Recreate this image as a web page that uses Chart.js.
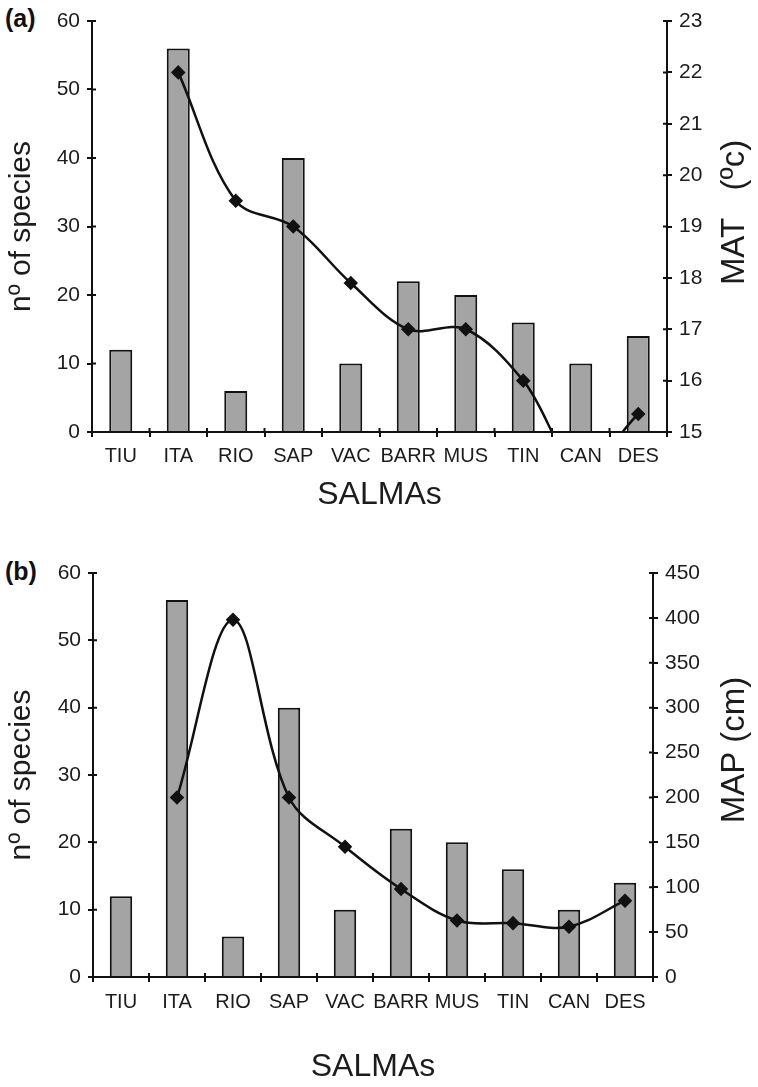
<!DOCTYPE html>
<html>
<head>
<meta charset="utf-8">
<script src="https://cdn.jsdelivr.net/npm/chart.js@4"></script>
<style>
        body { margin: 0; background: #fff; width: 758px; height: 1087px; position: relative; overflow: hidden; }
        canvas { position: absolute; left: 0; }
        .panel_label { position: absolute; left: 5px; font: bold 25px "Liberation Sans", Arial, sans-serif; color: #111; }
</style>
</head>
<body>
<div class="panel_label" style="top:4px">(a)</div>
<canvas id="chart_mat" width="758" height="540" style="top:0px"></canvas>
<div class="panel_label" style="top:557px">(b)</div>
<canvas id="chart_map" width="758" height="547" style="top:540px"></canvas>
<script>
const salmas = ["TIU", "ITA", "RIO", "SAP", "VAC", "BARR", "MUS", "TIN", "CAN", "DES"];
const species_count = [12, 56, 6, 40, 10, 22, 20, 16, 10, 14];
const mat_values = [null, 22, 19.5, 19, 17.9, 17, 17, 16, 14.3, 15.35];
const map_values = [null, 200, 398, 200, 145, 98, 63, 60, 56, 85];

const font_family = '"Liberation Sans", Arial, sans-serif';
const ink = "#111";
const text_ink = "#1c1c1c";

// ticks in the picture cross the axis line, chart.js only draws them outside
const cross_ticks = {
        id: "cross_ticks",
        afterDraw(chart) {
                var ctx = chart.ctx;
                ctx.save();
                ctx.strokeStyle = ink;
                ctx.lineWidth = 2;
                for (const id in chart.scales) {
                        const s = chart.scales[id];
                        ctx.beginPath();
                        if (s.isHorizontal()) {
                                for (let i = 0; i <= s.ticks.length; i++) {
                                        const x = s.getPixelForValue(i - 0.5);
                                        ctx.moveTo(x, s.top);
                                        ctx.lineTo(x, s.top - 4);
                                }
                        } else {
                                const x = s.position === "left" ? s.right : s.left;
                                const dir = s.position === "left" ? 1 : -1;
                                for (let i = 0; i < s.ticks.length; i++) {
                                        const y = s.getPixelForTick(i);
                                        ctx.moveTo(x, y);
                                        ctx.lineTo(x + dir * 4, y);
                                }
                        }
                        ctx.stroke();
                }
                ctx.restore();
        }
};

// right axis title reads bottom to top like the left one
const right_title = {
        id: "right_title",
        afterDraw(chart, args, opts) {
                const s = chart.scales.y2;
                var ctx = chart.ctx;
                ctx.save();
                ctx.fillStyle = text_ink;
                ctx.font = opts.size + "px " + font_family;
                ctx.textAlign = "center";
                ctx.textBaseline = "middle";
                ctx.translate(s.right - opts.offset, (s.top + s.bottom) / 2 + opts.shift);
                ctx.rotate(-Math.PI / 2);
                ctx.fillText(opts.text, 0, 0);
                ctx.restore();
        }
};

function axis_common(extra) {
        return Object.assign({
                grid: { drawOnChartArea: false, drawTicks: true, tickLength: 5, color: ink, lineWidth: 2 },
                border: { color: ink, width: 2 },
        }, extra);
}

function init_chart(name, line_values, opt) {
        new Chart(name, {
                type: "bar",
                data: {
                        labels: salmas,
                        datasets: [{
                                type: "line",
                                data: line_values,
                                yAxisID: "y2",
                                borderColor: ink,
                                borderWidth: 2.5,
                                tension: 0.35,
                                pointStyle: "rectRot",
                                pointRadius: 5.5,
                                pointBackgroundColor: ink,
                                pointBorderColor: ink,
                                clip: 0,
                                order: 0
                        }, {
                                data: species_count,
                                yAxisID: "y",
                                backgroundColor: "#a4a4a4",
                                borderColor: ink,
                                borderWidth: 2,
                                barPercentage: 0.4,
                                categoryPercentage: 1,
                                order: 1
                        }]
                },
                options: {
                        responsive: false,
                        animation: false,
                        layout: { padding: { top: opt.top, bottom: opt.bottom, left: 0, right: 0 } },
                        plugins: {
                                legend: { display: false },
                                tooltip: { enabled: false },
                                right_title: { text: opt.right_text, size: 33, offset: 23, shift: opt.rshift }
                        },
                        scales: {
                                x: axis_common({
                                        offset: true,
                                        grid: { offset: true, drawOnChartArea: false, tickLength: 5, color: ink, lineWidth: 2 },
                                        ticks: { color: text_ink, font: { family: font_family, size: 20 }, padding: opt.xpad, maxRotation: 0, autoSkip: false },
                                        title: { display: true, text: "SALMAs", color: text_ink, font: { family: font_family, size: 32 }, padding: 0 },
                                        afterFit: s => { s.height = opt.xh; }
                                }),
                                y: axis_common({
                                        position: "left",
                                        min: 0,
                                        max: 60,
                                        ticks: { stepSize: 10, color: text_ink, font: { family: font_family, size: 21 }, padding: 7 },
                                        title: { display: true, text: "nº of species", color: text_ink, font: { family: font_family, size: 30 }, padding: { top: 4 } },
                                        afterFit: s => { s.width = opt.left; }
                                }),
                                y2: axis_common({
                                        position: "right",
                                        min: opt.rmin,
                                        max: opt.rmax,
                                        ticks: { stepSize: opt.rstep, color: text_ink, font: { family: font_family, size: 21 }, padding: 7 },
                                        afterFit: s => { s.width = opt.right; }
                                })
                        }
                },
                plugins: [cross_ticks, right_title]
        });
}

init_chart("chart_mat", mat_values, {
        top: 21, bottom: 26, xh: 82, xpad: 7, left: 92, right: 91,
        rmin: 15, rmax: 23, rstep: 1, right_text: "MAT   (ºc)", rshift: -14
});
init_chart("chart_map", map_values, {
        top: 33, bottom: 1, xh: 109, xpad: 8, left: 93, right: 105,
        rmin: 0, rmax: 450, rstep: 50, right_text: "MAP (cm)", rshift: -25
});
</script>
</body>
</html>
